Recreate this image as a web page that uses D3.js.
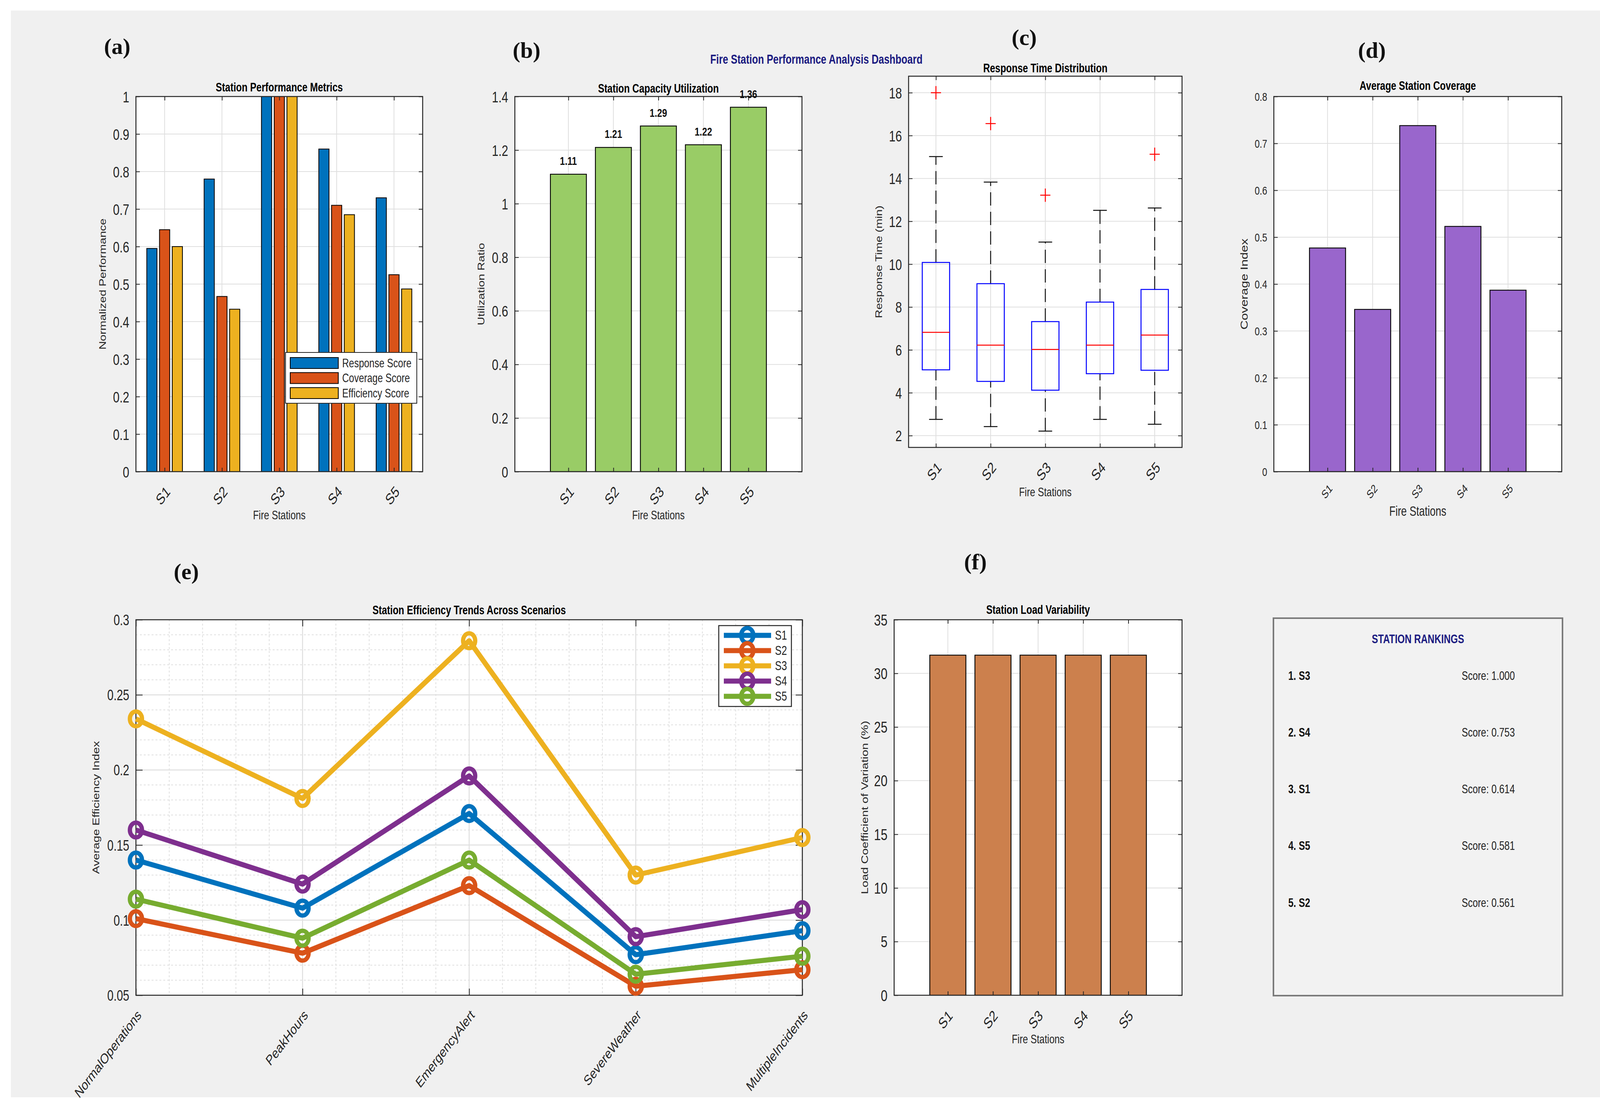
<!DOCTYPE html>
<html>
<head>
<meta charset="utf-8">
<script src="https://cdn.jsdelivr.net/npm/d3@7"></script>
<style>
  body { margin: 0; background: #fff; overflow: hidden; }
  text { font-family: "Liberation Sans", Arial, Helvetica, sans-serif; }
</style>
</head>
<body>
<svg id="fig" width="4153" height="2833"></svg>
<script>
// ---- data ----
var stations = ['S1', 'S2', 'S3', 'S4', 'S5'];
var stationIdx = [1, 2, 3, 4, 5];

var responseScore = [0.595, 0.78, 1.0, 0.86, 0.73];
var coverageScore = [0.645, 0.467, 1.0, 0.71, 0.525];
var efficiencyScore = [0.60, 0.433, 1.0, 0.685, 0.487];
var perfTicks = [0, 0.1, 0.2, 0.3, 0.4, 0.5, 0.6, 0.7, 0.8, 0.9, 1];

var utilization = [1.11, 1.21, 1.29, 1.22, 1.36];
var utilTicks = [0, 0.2, 0.4, 0.6, 0.8, 1, 1.2, 1.4];

var rtLow = [2.76, 2.42, 2.21, 2.76, 2.53];
var rtQ1 = [5.07, 4.53, 4.12, 4.89, 5.05];
var rtMedian = [6.82, 6.22, 6.02, 6.22, 6.69];
var rtQ3 = [10.08, 9.09, 7.32, 8.23, 8.82];
var rtHigh = [15.02, 13.83, 11.03, 12.51, 12.62];
var rtOutliers = [[18.0], [16.56], [13.22], [], [15.13]];
var rtTicks = [2, 4, 6, 8, 10, 12, 14, 16, 18];

var coverageIndex = [0.477, 0.346, 0.738, 0.523, 0.387];
var covTicks = [0, 0.1, 0.2, 0.3, 0.4, 0.5, 0.6, 0.7, 0.8];

var scenarios = ['NormalOperations', 'PeakHours', 'EmergencyAlert', 'SevereWeather', 'MultipleIncidents'];
var effS1 = [0.140, 0.108, 0.171, 0.077, 0.093];
var effS2 = [0.101, 0.078, 0.123, 0.056, 0.067];
var effS3 = [0.234, 0.181, 0.286, 0.130, 0.155];
var effS4 = [0.160, 0.124, 0.196, 0.089, 0.107];
var effS5 = [0.114, 0.088, 0.140, 0.064, 0.076];
var effTicks = [0.05, 0.1, 0.15, 0.2, 0.25, 0.3];

var loadCV = [31.7, 31.7, 31.7, 31.7, 31.7];
var loadTicks = [0, 5, 10, 15, 20, 25, 30, 35];

var rankStations = ['S3', 'S4', 'S1', 'S5', 'S2'];
var rankScores = [1.000, 0.753, 0.614, 0.581, 0.561];

// ---- styling ----
var K = 1.32;              // the original figure is stretched vertically
var INK = '#262626';
var GRID = '#dfdfdf';
var lineColors = ['#0072BD', '#D95319', '#EDB120', '#7E2F8E', '#77AC30'];
var fmtNum = function(d) { return String(+d.toFixed(2)); };

var svg = d3.select('#fig');
svg.append('rect')
  .attr('x', 28).attr('y', 27).attr('width', 4099).attr('height', 2781)
  .attr('fill', '#f0f0f0');

function txt(g, x, y, s, o) {
  o = o || {};
  var k = o.noStretch ? 1 : K;
  return g.append('text')
    .attr('transform', 'translate(' + x + ',' + y + ') scale(1,' + k + ')' + (o.rot ? ' rotate(' + o.rot + ')' : ''))
    .attr('text-anchor', o.anchor || 'middle')
    .attr('dominant-baseline', 'central')
    .attr('fill', o.fill || INK)
    .style('font-size', (o.size || 24) + 'px')
    .style('font-weight', o.bold ? 'bold' : null)
    .style('font-family', o.family || null)
    .text(s);
}

function panel(left, top) {
  return svg.append('g').attr('transform', 'translate(' + left + ',' + top + ')');
}

// white plot area plus major grid
function grid(g, x, y, xt, yt) {
  var w = x.range()[1], h = y.range()[0];
  g.append('rect').attr('width', w).attr('height', h).attr('fill', '#fff');
  g.append('g').selectAll('line').data(yt).join('line')
    .attr('x1', 0).attr('x2', w)
    .attr('y1', function(d) { return y(d); }).attr('y2', function(d) { return y(d); })
    .attr('stroke', GRID).attr('stroke-width', 2);
  g.append('g').selectAll('line').data(xt).join('line')
    .attr('y1', 0).attr('y2', h)
    .attr('x1', function(d) { return x(d); }).attr('x2', function(d) { return x(d); })
    .attr('stroke', GRID).attr('stroke-width', 2);
}

// box, inward ticks and tick labels
function frame(g, x, y, o) {
  var w = x.range()[1], h = y.range()[0], tl = o.tl || 10;
  var ax = g.append('g');
  var yl = ax.append('g')
    .call(d3.axisLeft(y).tickValues(o.yTicks).tickFormat(fmtNum).tickSize(-tl).tickPadding(17));
  ax.append('g').attr('transform', 'translate(' + w + ',0)')
    .call(d3.axisRight(y).tickValues(o.yTicks).tickFormat('').tickSize(-tl));
  var xl = ax.append('g').attr('transform', 'translate(0,' + h + ')')
    .call(d3.axisBottom(x).tickValues(o.xTicks).tickFormat(function(d, i) { return o.xNames[i]; }).tickSize(-tl));
  ax.append('g')
    .call(d3.axisTop(x).tickValues(o.xTicks).tickFormat('').tickSize(-tl));
  ax.selectAll('.domain').remove();
  ax.selectAll('.tick line').attr('stroke', INK).attr('stroke-width', 2);
  ax.selectAll('g').attr('font-family', null).attr('font-size', null);
  yl.selectAll('text').attr('x', null).attr('dy', null)
    .attr('transform', 'translate(-17,0) scale(1,' + K + ')')
    .attr('text-anchor', 'end').attr('dominant-baseline', 'central')
    .attr('fill', INK).style('font-size', o.ySize + 'px');
  xl.selectAll('text').attr('y', null).attr('dy', null)
    .attr('transform', 'translate(' + o.xdx + ',' + o.xdy + ') scale(1,' + K + ') rotate(-45)')
    .attr('text-anchor', 'end').attr('dominant-baseline', 'central')
    .attr('fill', INK).style('font-size', o.xSize + 'px');
  g.append('rect').attr('width', w).attr('height', h)
    .attr('fill', 'none').attr('stroke', INK).attr('stroke-width', 2.5);
}

function simpleBars(g, x, y, vals, color) {
  var bw = 0.8;
  g.append('g').selectAll('rect').data(vals).join('rect')
    .attr('x', function(d, i) { return x(i + 1 - bw / 2); })
    .attr('width', x(bw) - x(0))
    .attr('y', function(d) { return y(d); })
    .attr('height', function(d) { return y(0) - y(d); })
    .attr('fill', color).attr('stroke', '#000').attr('stroke-width', 2.2);
}

function panelLetter(x, y, s) {
  txt(svg, x, y, s, { size: 58, bold: true, fill: '#111', family: '"Liberation Serif", "DejaVu Serif", serif', noStretch: true });
}

// ---- main title ----
txt(svg, 2090, 152, 'Fire Station Performance Analysis Dashboard', { size: 25, bold: true, fill: '#1a1a80' });

// ---- (a) grouped bars ----
(function() {
  var L = 348, T = 247, W = 734, H = 960;
  var x = d3.scaleLinear().domain([0.5, 5.5]).range([0, W]);
  var y = d3.scaleLinear().domain([0, 1]).range([H, 0]);
  var g = panel(L, T);
  grid(g, x, y, stationIdx, perfTicks);
  var series = [responseScore, coverageScore, efficiencyScore];
  var names = ['Response Score', 'Coverage Score', 'Efficiency Score'];
  var offs = [-0.222, 0, 0.222], bw = 0.178;
  series.forEach(function(vals, j) {
    g.append('g').selectAll('rect').data(vals).join('rect')
      .attr('x', function(d, i) { return x(i + 1 + offs[j] - bw / 2); })
      .attr('width', x(bw) - x(0))
      .attr('y', function(d) { return y(d); })
      .attr('height', function(d) { return y(0) - y(d); })
      .attr('fill', lineColors[j]).attr('stroke', '#000').attr('stroke-width', 2);
  });
  frame(g, x, y, { yTicks: perfTicks, xTicks: stationIdx, xNames: stations, ySize: 30, xSize: 30, xdx: 8, xdy: 44 });

  // legend
  var lg = g.append('g').attr('transform', 'translate(383,655)');
  lg.append('rect').attr('width', 336).attr('height', 130)
    .attr('fill', '#fff').attr('stroke', INK).attr('stroke-width', 2);
  names.forEach(function(n, j) {
    var cy = 27 + j * 38.5;
    lg.append('rect').attr('x', 12).attr('y', cy - 14).attr('width', 123).attr('height', 28)
      .attr('fill', lineColors[j]).attr('stroke', '#000').attr('stroke-width', 2);
    txt(lg, 145, cy, n, { anchor: 'start', size: 24 });
  });

  txt(svg, L + W / 2, 223, 'Station Performance Metrics', { size: 24, bold: true, fill: '#000' });
  txt(svg, L + W / 2, 1318, 'Fire Stations', { size: 24 });
  txt(svg, 263, T + H / 2, 'Normalized Performance', { size: 23, rot: -90 });
  panelLetter(300, 118, '(a)');
})();

// ---- (b) capacity utilization ----
(function() {
  var L = 1318, T = 247, W = 735, H = 960;
  var x = d3.scaleLinear().domain([-0.19, 6.19]).range([0, W]);
  var y = d3.scaleLinear().domain([0, 1.4]).range([H, 0]);
  var g = panel(L, T);
  grid(g, x, y, stationIdx, utilTicks);
  simpleBars(g, x, y, utilization, '#99CC66');
  frame(g, x, y, { yTicks: utilTicks, xTicks: stationIdx, xNames: stations, ySize: 30, xSize: 30, xdx: 8, xdy: 44 });
  utilization.forEach(function(d, i) {
    txt(g, x(i + 1), y(d) - 34, d.toFixed(2), { size: 23, bold: true, fill: '#111' });
  });
  txt(svg, L + W / 2, 226, 'Station Capacity Utilization', { size: 24, bold: true, fill: '#000' });
  txt(svg, L + W / 2, 1318, 'Fire Stations', { size: 24 });
  txt(svg, 1232, T + H / 2, 'Utilization Ratio', { size: 23, rot: -90 });
  panelLetter(1348, 128, '(b)');
})();

// ---- (c) box plot ----
(function() {
  var L = 2326, T = 195, W = 700, H = 950;
  var x = d3.scaleLinear().domain([0.5, 5.5]).range([0, W]);
  var y = d3.scaleLinear().domain([1.45, 18.77]).range([H, 0]);
  var g = panel(L, T);
  grid(g, x, y, stationIdx, rtTicks);
  var bx = g.append('g');
  stationIdx.forEach(function(s, i) {
    var cx = x(s), hb = x(0.25) - x(0), hc = x(0.125) - x(0);
    [[rtQ3[i], rtHigh[i]], [rtLow[i], rtQ1[i]]].forEach(function(seg) {
      bx.append('line').attr('x1', cx).attr('x2', cx).attr('y1', y(seg[0])).attr('y2', y(seg[1]))
        .attr('stroke', '#111').attr('stroke-width', 2.5).attr('stroke-dasharray', '34,16');
    });
    [rtLow[i], rtHigh[i]].forEach(function(v) {
      bx.append('line').attr('x1', cx - hc).attr('x2', cx + hc).attr('y1', y(v)).attr('y2', y(v))
        .attr('stroke', '#111').attr('stroke-width', 2.5);
    });
    bx.append('rect').attr('x', cx - hb).attr('width', 2 * hb)
      .attr('y', y(rtQ3[i])).attr('height', y(rtQ1[i]) - y(rtQ3[i]))
      .attr('fill', 'none').attr('stroke', '#0000ff').attr('stroke-width', 2.5);
    bx.append('line').attr('x1', cx - hb).attr('x2', cx + hb)
      .attr('y1', y(rtMedian[i])).attr('y2', y(rtMedian[i]))
      .attr('stroke', '#ff0000').attr('stroke-width', 2.5);
    rtOutliers[i].forEach(function(v) {
      var py = y(v);
      bx.append('path')
        .attr('d', 'M' + (cx - 13) + ',' + py + 'H' + (cx + 13) + 'M' + cx + ',' + (py - 17) + 'V' + (py + 17))
        .attr('stroke', '#ff0000').attr('stroke-width', 2.5);
    });
  });
  frame(g, x, y, { yTicks: rtTicks, xTicks: stationIdx, xNames: stations, ySize: 30, xSize: 30, xdx: 8, xdy: 44 });
  txt(svg, L + W / 2, 174, 'Response Time Distribution', { size: 24, bold: true, fill: '#000' });
  txt(svg, L + W / 2, 1259, 'Fire Stations', { size: 24 });
  txt(svg, 2250, T + H / 2, 'Response Time (min)', { size: 23, rot: -90 });
  panelLetter(2622, 95, '(c)');
})();

// ---- (d) coverage ----
(function() {
  var L = 3261, T = 247, W = 737, H = 960;
  var x = d3.scaleLinear().domain([-0.19, 6.19]).range([0, W]);
  var y = d3.scaleLinear().domain([0, 0.8]).range([H, 0]);
  var g = panel(L, T);
  grid(g, x, y, stationIdx, covTicks);
  simpleBars(g, x, y, coverageIndex, '#9966CC');
  frame(g, x, y, { yTicks: covTicks, xTicks: stationIdx, xNames: stations, ySize: 23, xSize: 23, xdx: 8, xdy: 38 });
  txt(svg, L + W / 2, 219, 'Average Station Coverage', { size: 24, bold: true, fill: '#000' });
  txt(svg, L + W / 2, 1308, 'Fire Stations', { size: 26 });
  txt(svg, 3185, T + H / 2, 'Coverage Index', { size: 25, rot: -90 });
  panelLetter(3512, 128, '(d)');
})();

// ---- (e) efficiency trends ----
(function() {
  var L = 348, T = 1586, W = 1706, H = 961;
  var x = d3.scaleLinear().domain([1, 5]).range([0, W]);
  var y = d3.scaleLinear().domain([0.05, 0.3]).range([H, 0]);
  var g = panel(L, T);
  g.append('rect').attr('width', W).attr('height', H).attr('fill', '#fff');
  var xMinor = d3.range(1, 5.0001, 0.2).filter(function(v) { return Math.abs(v - Math.round(v)) > 1e-6; });
  var yMinor = d3.range(0.05, 0.3001, 0.01).filter(function(v) { return Math.abs(v * 20 - Math.round(v * 20)) > 1e-6; });
  var mg = g.append('g').attr('stroke', GRID).attr('stroke-width', 2).attr('stroke-dasharray', '5,5');
  mg.selectAll('.vx').data(xMinor).join('line').attr('class', 'vx')
    .attr('x1', function(d) { return x(d); }).attr('x2', function(d) { return x(d); })
    .attr('y1', 0).attr('y2', H);
  mg.selectAll('.hy').data(yMinor).join('line').attr('class', 'hy')
    .attr('y1', function(d) { return y(d); }).attr('y2', function(d) { return y(d); })
    .attr('x1', 0).attr('x2', W);
  g.append('g').selectAll('line').data(effTicks).join('line')
    .attr('x1', 0).attr('x2', W)
    .attr('y1', function(d) { return y(d); }).attr('y2', function(d) { return y(d); })
    .attr('stroke', GRID).attr('stroke-width', 2.5);
  g.append('g').selectAll('line').data(stationIdx).join('line')
    .attr('y1', 0).attr('y2', H)
    .attr('x1', function(d) { return x(d); }).attr('x2', function(d) { return x(d); })
    .attr('stroke', GRID).attr('stroke-width', 2.5);
  frame(g, x, y, { yTicks: effTicks, xTicks: stationIdx, xNames: scenarios, ySize: 29, xSize: 28, xdx: 8, xdy: 44, tl: 17 });

  var series = [effS1, effS2, effS3, effS4, effS5];
  var line = d3.line().x(function(d, i) { return x(i + 1); }).y(function(d) { return y(d); });
  series.forEach(function(vals, j) {
    var sg = g.append('g');
    sg.append('path').attr('d', line(vals)).attr('fill', 'none')
      .attr('stroke', lineColors[j]).attr('stroke-width', 13).attr('stroke-linejoin', 'round');
    sg.selectAll('ellipse').data(vals).join('ellipse')
      .attr('cx', function(d, i) { return x(i + 1); }).attr('cy', function(d) { return y(d); })
      .attr('rx', 15.5).attr('ry', 19)
      .attr('fill', 'none').attr('stroke', lineColors[j]).attr('stroke-width', 11);
  });

  // legend
  var lg = g.append('g').attr('transform', 'translate(1492,15)');
  lg.append('rect').attr('width', 186).attr('height', 207)
    .attr('fill', '#fff').attr('stroke', INK).attr('stroke-width', 2.5);
  stations.forEach(function(n, j) {
    var cy = 25 + j * 39;
    lg.append('line').attr('x1', 13).attr('x2', 134).attr('y1', cy).attr('y2', cy)
      .attr('stroke', lineColors[j]).attr('stroke-width', 13);
    lg.append('ellipse').attr('cx', 73).attr('cy', cy).attr('rx', 15.5).attr('ry', 19)
      .attr('fill', 'none').attr('stroke', lineColors[j]).attr('stroke-width', 11);
    txt(lg, 144, cy, n, { anchor: 'start', size: 25 });
  });

  txt(svg, L + W / 2, 1561, 'Station Efficiency Trends Across Scenarios', { size: 24, bold: true, fill: '#000' });
  txt(svg, 246, T + H / 2, 'Average Efficiency Index', { size: 23.5, rot: -90 });
  panelLetter(477, 1462, '(e)');
})();

// ---- (f) load variability ----
(function() {
  var L = 2289, T = 1586, W = 737, H = 961;
  var x = d3.scaleLinear().domain([-0.19, 6.19]).range([0, W]);
  var y = d3.scaleLinear().domain([0, 35]).range([H, 0]);
  var g = panel(L, T);
  grid(g, x, y, stationIdx, loadTicks);
  simpleBars(g, x, y, loadCV, '#CC804D');
  frame(g, x, y, { yTicks: loadTicks, xTicks: stationIdx, xNames: stations, ySize: 31, xSize: 30, xdx: 6, xdy: 45 });
  txt(svg, L + W / 2, 1560, 'Station Load Variability', { size: 24, bold: true, fill: '#000' });
  txt(svg, L + W / 2, 2659, 'Fire Stations', { size: 24 });
  txt(svg, 2214, T + H / 2, 'Load Coefficient of Variation (%)', { size: 23.5, rot: -90 });
  panelLetter(2497, 1437, '(f)');
})();

// ---- rankings box ----
(function() {
  var g = panel(3260, 1582);
  g.append('rect').attr('width', 740).attr('height', 966)
    .attr('fill', '#f2f2f2').attr('stroke', '#7a7a7a').attr('stroke-width', 4);
  txt(g, 370, 53, 'STATION RANKINGS', { size: 24, bold: true, fill: '#1a1a80' });
  var rowY = d3.scaleLinear().domain([0, 4]).range([147, 728]);
  rankStations.forEach(function(s, i) {
    txt(g, 38, rowY(i), (i + 1) + '. ' + s, { anchor: 'start', size: 24, bold: true, fill: '#111' });
    txt(g, 482, rowY(i), 'Score: ' + rankScores[i].toFixed(3), { anchor: 'start', size: 24, fill: '#222' });
  });
})();
</script>
</body>
</html>
